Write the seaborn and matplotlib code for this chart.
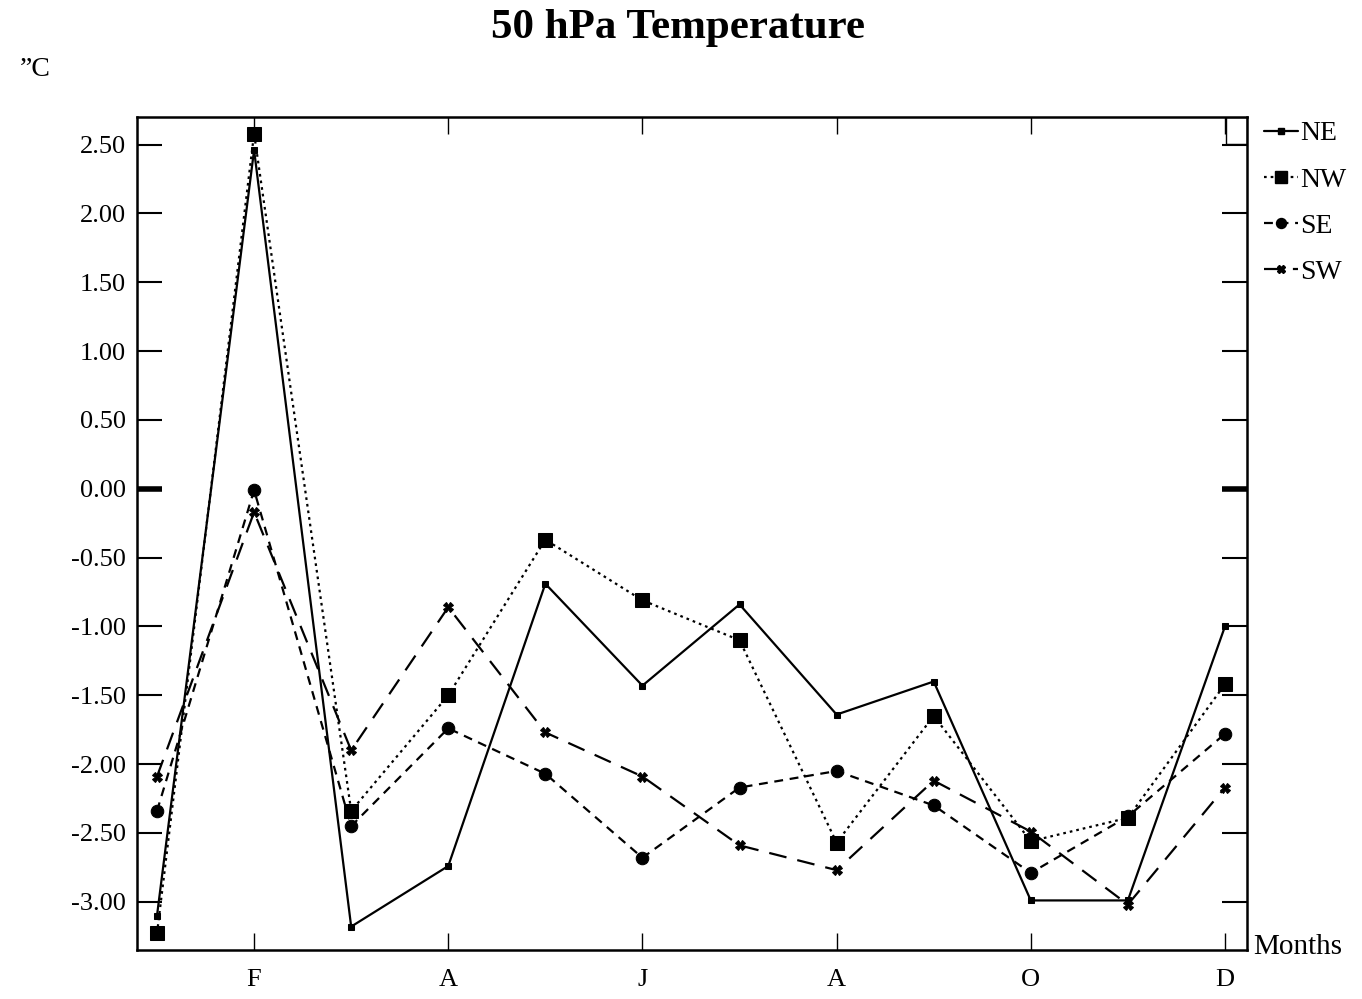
import numpy as np
import pandas as pd
import matplotlib
matplotlib.use("Agg")
import matplotlib.pyplot as plt
import seaborn as sns
from matplotlib.lines import Line2D

# monthly values (Jan..Dec)
months = list(range(12))
tick_pos = [1, 3, 5, 7, 9, 11]
tick_labels = ['F', 'A', 'J', 'A', 'O', 'D']

ne = [-3.10, 2.46, -3.18, -2.74, -0.69, -1.43, -0.84, -1.64, -1.40, -2.99, -2.99, -1.00]
nw = [-3.23, 2.58, -2.34, -1.50, -0.37, -0.81, -1.10, -2.57, -1.65, -2.56, -2.39, -1.42]
se = [-2.34, -0.01, -2.45, -1.74, -2.07, -2.68, -2.17, -2.05, -2.30, -2.79, -2.38, -1.78]
sw = [-2.09, -0.17, -1.90, -0.86, -1.77, -2.09, -2.59, -2.77, -2.12, -2.49, -3.02, -2.17]

series = {'NE': ne, 'NW': nw, 'SE': se, 'SW': sw}
styles = {
    'NE': dict(marker='s', markersize=5, linestyle='-'),
    'NW': dict(marker='s', markersize=10, linestyle=(0, (1.2, 1.8))),
    'SE': dict(marker='o', markersize=9, linestyle=(0, (4, 3))),
    'SW': dict(marker='X', markersize=7, linestyle=(0, (8, 5))),
}

sns.set_style("ticks")
plt.rcParams['font.family'] = ['Liberation Serif', 'DejaVu Serif']
plt.rcParams['text.color'] = 'black'
plt.rcParams['xtick.color'] = 'black'
plt.rcParams['ytick.color'] = 'black'
plt.rcParams['axes.labelcolor'] = 'black'

fig = plt.figure(figsize=(13.62, 9.99), dpi=100)
ax = fig.add_axes([137 / 1362, 1 - 950 / 999, (1247 - 137) / 1362, (950 - 117) / 999])

for name, vals in series.items():
    st = styles[name]
    sns.lineplot(x=months, y=vals, ax=ax, color='black', linewidth=1.6,
                 marker=st['marker'], markersize=st['markersize'],
                 linestyle=st['linestyle'], markeredgecolor='black', label=name)

ax.set_xlim(-0.206, 11.227)
ax.set_ylim(-3.35, 2.70)
ax.set_xticks(tick_pos)
ax.set_xticklabels(tick_labels)
yt = np.arange(-3.0, 2.51, 0.5)
ax.set_yticks(yt)
ax.set_yticklabels([f"{v:.2f}" for v in yt])
ax.tick_params(axis='y', direction='in', length=18, width=1.5, left=True, right=True,
               labelsize=19, pad=8, colors='black')
ax.tick_params(axis='x', direction='in', length=12, width=1.0, top=True, bottom=True,
               labelsize=19, pad=14, colors='black')
for t, v in zip(ax.yaxis.get_major_ticks(), yt):
    if abs(v) < 1e-9:
        t.tick1line.set_markeredgewidth(4)
        t.tick2line.set_markeredgewidth(4)
for sp in ax.spines.values():
    sp.set_linewidth(1.8)
    sp.set_color('black')
ax.set_xlabel('')
ax.set_ylabel('')

# small box in the top right corner
ax.add_patch(plt.Rectangle((0.981, 0.967), 0.019, 0.033, transform=ax.transAxes,
                           fill=False, edgecolor='black', linewidth=1.0))

handles = [Line2D([], [], color='black', linewidth=1.6, marker=styles[n]['marker'],
                  markersize=styles[n]['markersize'] * 0.8, linestyle=styles[n]['linestyle'])
           for n in series]
ax.legend(handles, list(series.keys()), loc='upper left', bbox_to_anchor=(1.003, 1.012),
          frameon=False, fontsize=20, handlelength=1.2, handletextpad=0.1,
          labelspacing=0.75, borderaxespad=0.1, labelcolor='black')

fig.text(678 / 1362, 1 - 28 / 999, '50 hPa Temperature', ha='center', va='center',
         fontsize=31, fontweight='bold')
fig.text(20 / 1362, 1 - 70 / 999, '\u201dC', ha='left', va='center', fontsize=20)
fig.text(1253 / 1362, 1 - 947 / 999, 'Months', ha='left', va='center', fontsize=21)

fig.savefig('out.png', dpi=100, facecolor='white')
